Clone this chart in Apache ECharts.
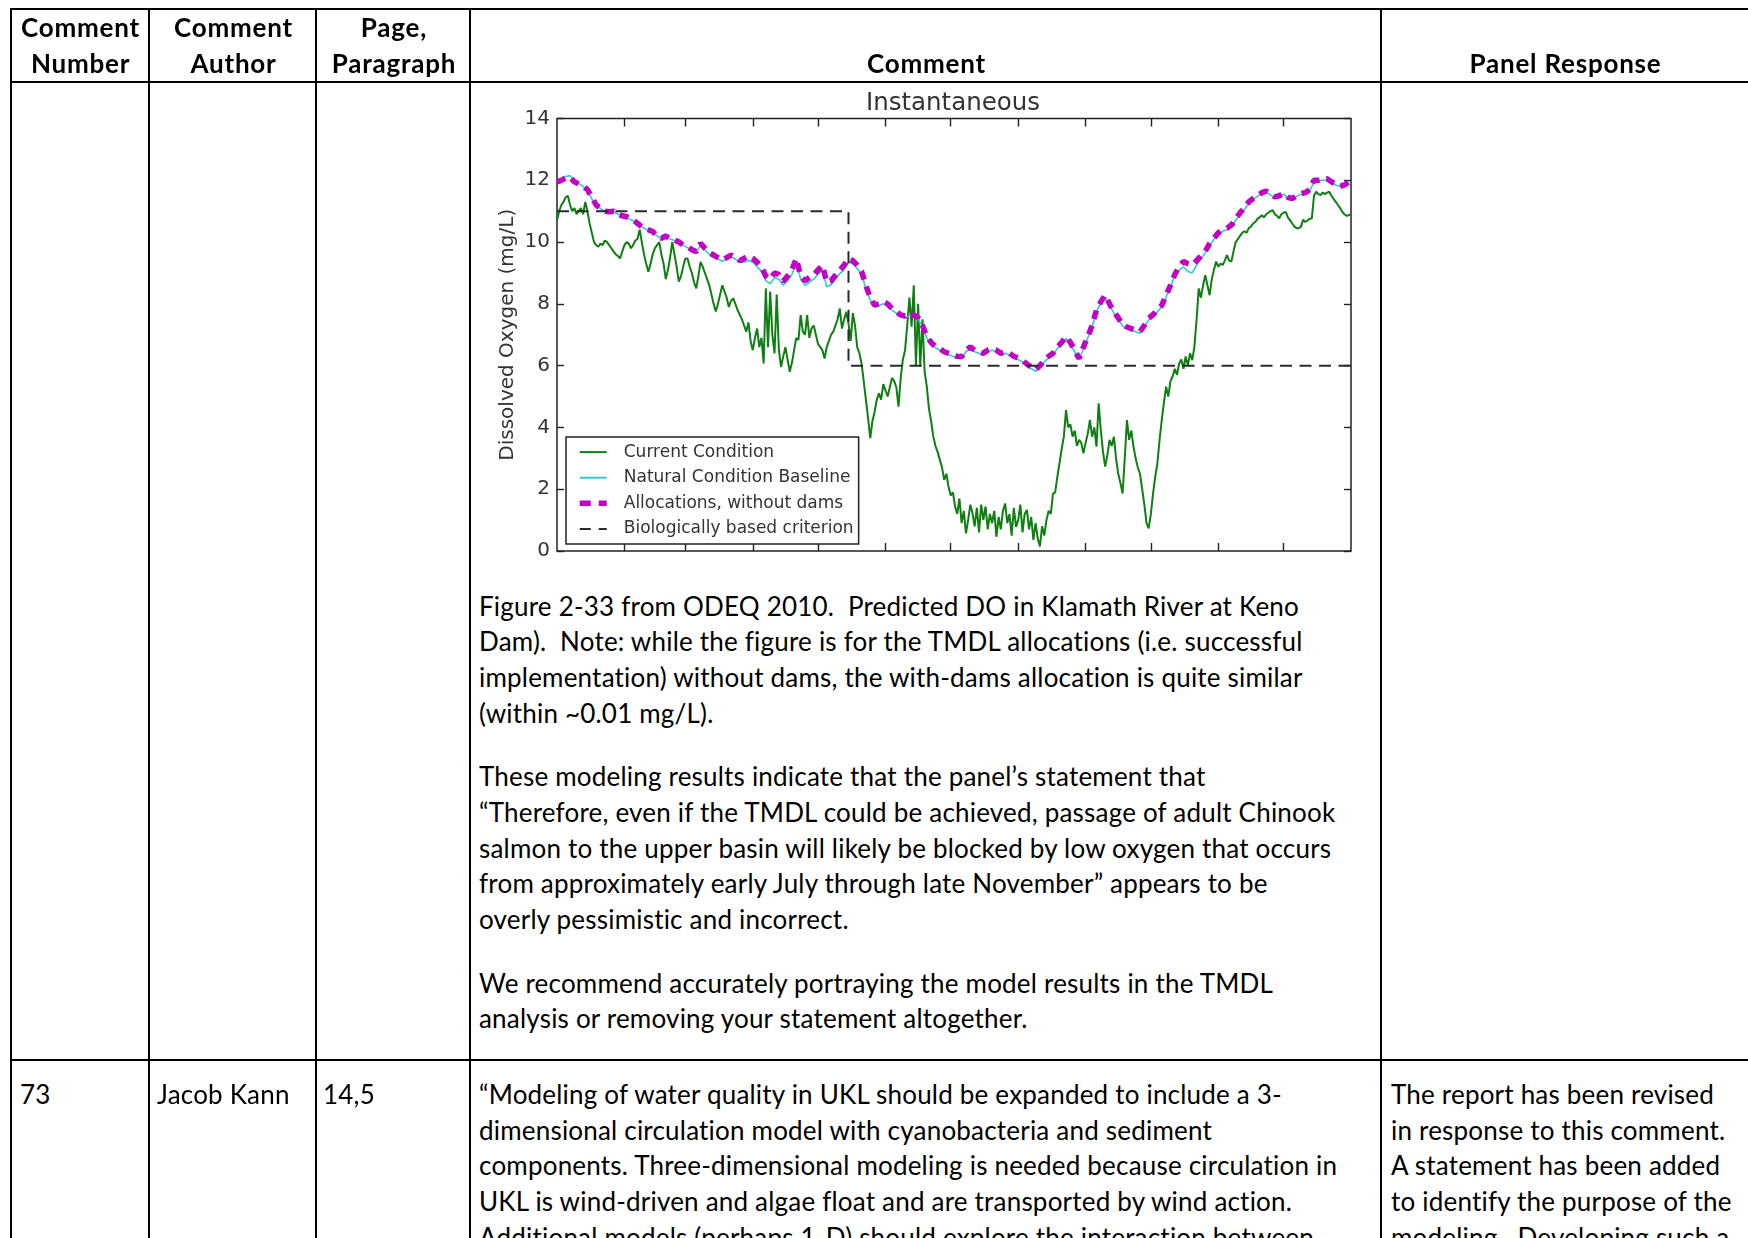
<!DOCTYPE html>
<html>
<head>
<meta charset="utf-8">
<script src="https://cdn.jsdelivr.net/npm/echarts@6/dist/echarts.min.js"></script>
<style>
  html, body { margin: 0; padding: 0; background: #fff; width: 1748px; height: 1238px; overflow: hidden; }
  .ln { position: absolute; background: #000; }
  .t { position: absolute; font-family: Lato, "Open Sans", sans-serif; font-size: 26px; line-height: 35.7px; white-space: pre; color: #000; }
  .b { font-weight: bold; text-align: center; }
  #chart { position: absolute; left: 472px; top: 82px; width: 905px; height: 490px; }
</style>
</head>
<body>
<div id="chart"></div>
<script>
// ---- chart data: dissolved oxygen (mg/L) by day of year ----
const monthStarts = [31, 59, 90, 120, 151, 181, 212, 243, 273, 304, 334];

// Current Condition, one value per day (day 0 .. 365)
const currentCondition = [
  10.7, 11.0, 11.2, 11.3, 11.45, 11.5, 11.2, 11.0, 11.1, 10.9,
  11.0, 11.1, 10.9, 11.3, 11.0, 10.6, 10.3, 10.0, 9.9, 9.85,
  9.95, 9.9, 10.05, 10.0, 9.9, 9.8, 9.7, 9.6, 9.55, 9.47,
  9.7, 9.9, 10.0, 9.95, 9.8, 9.9, 10.05, 10.1, 10.4, 10.0,
  9.6, 9.3, 9.04, 9.3, 9.6, 9.8, 9.9, 10.0, 9.6, 9.3,
  8.8, 9.1, 9.5, 10.0, 9.6, 9.2, 8.72, 8.9, 9.2, 9.47,
  9.47, 9.2, 9.0, 8.7, 8.5, 8.9, 9.36, 9.2, 9.0, 8.8,
  8.6, 8.3, 8.0, 7.75, 8.0, 8.3, 8.6, 8.4, 8.2, 7.9,
  8.1, 8.18, 8.0, 7.8, 7.65, 7.5, 7.3, 7.1, 7.4, 6.8,
  6.5, 6.9, 7.2, 6.6, 6.9, 6.07, 8.5, 6.6, 8.4, 7.0,
  6.4, 8.3, 6.5, 5.96, 6.3, 6.6, 6.2, 5.8, 6.1, 6.5,
  6.9, 6.83, 7.64, 7.1, 7.0, 7.64, 6.9, 7.2, 7.3, 7.0,
  6.7, 6.6, 6.5, 6.23, 6.6, 6.8, 7.0, 7.1, 7.3, 7.5,
  7.85, 7.2, 7.5, 7.74, 7.37, 6.8, 7.7, 7.3, 6.6, 6.4,
  6.07, 5.5, 4.9, 4.3, 3.65, 4.2, 4.5, 4.9, 5.1, 4.9,
  5.4, 5.2, 5.0, 5.3, 5.6, 5.5, 5.3, 4.67, 5.6, 6.2,
  6.5, 7.3, 8.2, 7.26, 8.6, 6.0, 8.0, 5.97, 7.5, 5.8,
  5.32, 4.6, 4.2, 3.7, 3.4, 3.2, 2.95, 2.7, 2.3, 2.5,
  2.08, 1.8, 1.9, 1.44, 1.2, 1.7, 0.9, 1.3, 0.57, 1.0,
  1.5, 1.22, 0.8, 1.4, 0.6, 1.5, 1.0, 1.44, 0.7, 1.2,
  0.9, 1.3, 0.46, 1.1, 0.7, 1.3, 1.54, 0.9, 1.2, 0.5,
  1.4, 0.78, 1.0, 1.5, 0.6, 1.2, 1.33, 0.7, 1.1, 0.36,
  0.9, 0.4, 0.15, 0.8, 0.5, 1.0, 1.3, 1.2, 1.86, 1.9,
  2.4, 2.84, 3.3, 3.7, 4.56, 4.0, 4.1, 3.7, 3.9, 3.4,
  3.6, 3.5, 3.16, 3.5, 3.8, 4.24, 3.7, 4.0, 3.38, 4.78,
  3.9, 3.2, 2.73, 3.1, 3.6, 3.4, 3.7, 3.0, 2.5, 2.2,
  1.86, 3.0, 4.24, 3.6, 3.9, 3.38, 3.0, 2.7, 2.5, 2.0,
  1.5, 0.9, 0.73, 1.2, 1.86, 2.4, 2.84, 3.6, 4.24, 4.8,
  5.32, 5.0, 5.5, 5.65, 5.9, 5.7, 6.07, 6.2, 5.9, 6.3,
  6.0, 6.4, 6.18, 6.6, 7.47, 8.5, 8.2, 8.6, 8.93, 8.6,
  8.28, 8.8, 9.1, 9.37, 9.2, 9.3, 9.26, 9.4, 9.58, 9.4,
  9.37, 9.7, 10.0, 10.1, 10.2, 10.3, 10.35, 10.3, 10.45, 10.5,
  10.6, 10.65, 10.75, 10.8, 10.87, 10.8, 10.9, 10.95, 11.0, 11.03,
  10.9, 10.85, 10.77, 10.9, 10.95, 10.98, 10.8, 10.7, 10.6, 10.5,
  10.45, 10.45, 10.5, 10.72, 10.65, 10.7, 10.75, 10.77, 11.5, 11.63,
  11.55, 11.52, 11.6, 11.55, 11.6, 11.63, 11.5, 11.4, 11.3, 11.2,
  11.1, 10.98, 10.9, 10.85, 10.87, 10.9
];

// Natural Condition Baseline, one value every 2 days (day 0 .. 364)
const naturalBaseline = [
  11.95, 12.05, 12.12, 12.15, 11.98, 11.9, 11.8, 11.65, 11.4, 11.2,
  11.08, 11.0, 10.95, 10.98, 10.9, 10.85, 10.8, 10.72, 10.65, 10.55,
  10.45, 10.38, 10.3, 10.2, 10.1, 10.15, 10.1, 10.05, 9.98, 9.9,
  9.82, 9.72, 9.65, 9.9, 9.75, 9.6, 9.52, 9.45, 9.38, 9.45,
  9.52, 9.45, 9.35, 9.35, 9.4, 9.35, 9.2, 9.05, 8.75, 8.65,
  8.85, 8.8, 8.6, 8.75, 8.95, 9.35, 8.8, 8.6, 8.7, 8.8,
  8.95, 9.1, 8.55, 8.62, 8.8, 8.98, 9.1, 9.35, 9.3, 9.15,
  8.95, 8.5, 8.12, 7.9, 7.95, 8.0, 7.95, 7.8, 7.7, 7.6,
  7.55, 7.62, 7.58, 7.5, 7.25, 6.9, 6.7, 6.58, 6.5, 6.42,
  6.36, 6.3, 6.25, 6.25, 6.45, 6.55, 6.45, 6.4, 6.35, 6.45,
  6.5, 6.45, 6.35, 6.4, 6.35, 6.25, 6.2, 6.12, 6.0, 5.9,
  5.82, 5.95, 6.12, 6.25, 6.35, 6.55, 6.7, 6.88, 6.7, 6.45,
  6.2, 6.55, 6.9, 7.25, 7.75, 8.02, 8.22, 7.95, 7.7, 7.5,
  7.28, 7.2, 7.15, 7.1, 7.05, 7.25, 7.48, 7.6, 7.75, 7.9,
  8.22, 8.55, 8.9, 9.1, 9.2, 9.05, 9.0, 9.25, 9.45, 9.65,
  9.9, 10.08, 10.25, 10.35, 10.4, 10.5, 10.7, 10.9, 11.05, 11.25,
  11.38, 11.48, 11.58, 11.62, 11.52, 11.45, 11.48, 11.55, 11.42, 11.38,
  11.48, 11.55, 11.58, 11.65, 11.95, 11.98, 12.0, 12.02, 11.92, 11.85,
  11.8, 11.88, 11.98
];

// Allocations, without dams, one value every 2 days (day 0 .. 364)
const allocationsNoDams = [
  11.95, 12.0, 12.08, 12.1, 11.95, 11.88, 11.8, 11.7, 11.45, 11.2,
  11.1, 11.0, 10.98, 11.0, 10.9, 10.85, 10.82, 10.75, 10.66, 10.55,
  10.45, 10.4, 10.34, 10.2, 10.12, 10.2, 10.1, 10.07, 10.0, 9.9,
  9.85, 9.75, 9.69, 9.96, 9.8, 9.65, 9.58, 9.5, 9.42, 9.5,
  9.58, 9.5, 9.4, 9.47, 9.55, 9.47, 9.35, 9.2, 8.9, 8.8,
  9.0, 8.95, 8.73, 8.9, 9.1, 9.47, 8.9, 8.75, 8.85, 8.93,
  9.1, 9.25, 8.7, 8.75, 8.93, 9.1, 9.25, 9.47, 9.4, 9.25,
  9.05, 8.6, 8.2, 7.96, 8.0, 8.07, 8.0, 7.85, 7.75, 7.64,
  7.6, 7.7, 7.64, 7.55, 7.3, 6.94, 6.75, 6.61, 6.55, 6.45,
  6.4, 6.35, 6.3, 6.29, 6.5, 6.61, 6.5, 6.45, 6.4, 6.5,
  6.55, 6.5, 6.4, 6.45, 6.4, 6.3, 6.25, 6.18, 6.05, 5.95,
  5.86, 6.0, 6.18, 6.3, 6.4, 6.6, 6.75, 6.94, 6.75, 6.5,
  6.23, 6.6, 6.94, 7.3, 7.8, 8.07, 8.28, 8.0, 7.74, 7.55,
  7.32, 7.25, 7.2, 7.15, 7.1, 7.3, 7.53, 7.65, 7.8, 7.95,
  8.28, 8.6, 8.95, 9.2, 9.37, 9.3, 9.26, 9.4, 9.55, 9.7,
  9.95, 10.12, 10.3, 10.4, 10.45, 10.55, 10.75, 10.95, 11.1, 11.3,
  11.41, 11.5, 11.6, 11.65, 11.55, 11.46, 11.5, 11.57, 11.45, 11.41,
  11.5, 11.57, 11.6, 11.7, 12.0, 12.0, 12.02, 12.05, 11.95, 11.88,
  11.8, 11.85, 11.95
];

// Biologically based criterion: 11 mg/L through mid-May, 6 mg/L afterwards
const criterionDays = [0, 134, 134, 365];
const criterionValues = [11, 11, 6, 6];

const seriesNames = ['Current Condition', 'Natural Condition Baseline', 'Allocations, without dams', 'Biologically based criterion'];

// ---- table text ----
const headerCells = [
  { x0: 12, x1: 149, lines: ['Comment', 'Number'] },
  { x0: 151, x1: 316, lines: ['Comment', 'Author'] },
  { x0: 318, x1: 470, lines: ['Page,', 'Paragraph'] },
  { x0: 472, x1: 1381, lines: ['Comment'], single: true },
  { x0: 1383, x1: 1748, lines: ['Panel Response'], single: true }
];

const commentParas72 = [
  [
    'Figure 2-33 from ODEQ 2010.  Predicted DO in Klamath River at Keno',
    'Dam).  Note: while the figure is for the TMDL allocations (i.e. successful',
    'implementation) without dams, the with-dams allocation is quite similar',
    '(within ~0.01 mg/L).'
  ],
  [
    'These modeling results indicate that the panel\u2019s statement that',
    '\u201CTherefore, even if the TMDL could be achieved, passage of adult Chinook',
    'salmon to the upper basin will likely be blocked by low oxygen that occurs',
    'from approximately early July through late November\u201D appears to be',
    'overly pessimistic and incorrect.'
  ],
  [
    'We recommend accurately portraying the model results in the TMDL',
    'analysis or removing your statement altogether.'
  ]
];

const commentText73 = [
  '\u201CModeling of water quality in UKL should be expanded to include a 3-',
  'dimensional circulation model with cyanobacteria and sediment',
  'components. Three-dimensional modeling is needed because circulation in',
  'UKL is wind-driven and algae float and are transported by wind action.',
  'Additional models (perhaps 1-D) should explore the interaction between'
];

const responseText73 = [
  'The report has been revised',
  'in response to this comment.',
  'A statement has been added',
  'to identify the purpose of the',
  'modeling.  Developing such a'
];

// ---- table grid ----
function rule(x, y, w, h) {
  const d = document.createElement('div');
  d.className = 'ln';
  d.style.left = x + 'px'; d.style.top = y + 'px';
  d.style.width = w + 'px'; d.style.height = h + 'px';
  document.body.appendChild(d);
}
rule(10, 8, 1740, 2);
rule(10, 81, 1740, 2);
rule(10, 1059, 1740, 2);
[10, 148, 315, 469, 1380].forEach(x => rule(x, 8, 2, 1240));

// ---- text placement ----
const LH = 35.7;       // line pitch
const PARA = 63.5;     // pitch from last line of a paragraph to first of the next
function textBlock(lines, x, yCenter, cls, extra) {
  const d = document.createElement('div');
  d.className = 't' + (cls ? ' ' + cls : '');
  d.textContent = lines.join('\n');
  d.style.left = x + 'px';
  d.style.top = (yCenter - 16.7) + 'px';
  if (extra) Object.assign(d.style, extra);
  document.body.appendChild(d);
  return d;
}

// letter spacing that makes a reference line span its printed width
function spacingFor(text, target, cls) {
  const p = document.createElement('span');
  p.className = 't' + (cls ? ' ' + cls : '');
  p.style.visibility = 'hidden';
  p.textContent = text;
  document.body.appendChild(p);
  const w = p.getBoundingClientRect().width;
  p.remove();
  return (target - w) / text.length;
}
const lsBody = spacingFor(commentParas72[0][0], 820) + 'px';
const lsBold = spacingFor('Panel Response', 192, 'b') + 'px';

headerCells.forEach(c => {
  textBlock(c.lines, c.x0, c.single ? 62.4 : 26.8, 'b', {
    width: (c.x1 - c.x0) + 'px', letterSpacing: lsBold
  });
});

let y = 605.3;
commentParas72.forEach(p => {
  textBlock(p, 479, y, '', { letterSpacing: lsBody });
  y += (p.length - 1) * LH + PARA;
});
textBlock(['73'], 20, 1093.6, '', { letterSpacing: lsBody });
textBlock(['Jacob Kann'], 157, 1093.6, '', { letterSpacing: lsBody });
textBlock(['14,5'], 323, 1093.6, '', { letterSpacing: lsBody });
textBlock(commentText73, 479, 1093.6, '', { letterSpacing: lsBody });
textBlock(responseText73, 1391, 1093.6, '', { letterSpacing: lsBody });

// ---- chart ----
const chart = echarts.init(document.getElementById('chart'), null, { renderer: 'canvas' });
const font = 'DejaVu Sans';

// box-style axes: ticks on all four sides, pointing into the plot
function xAxisCfg(position) {
  return {
    show: true, type: 'value', min: 0, max: 365, position: position,
    axisLine: { show: false, onZero: false },
    axisTick: { show: true, inside: true, length: 8, customValues: monthStarts.slice(), lineStyle: { color: '#222', width: 1.4 } },
    axisLabel: { show: false },
    splitLine: { show: false }
  };
}
function yAxisCfg(position, withLabels) {
  const cfg = {
    show: true, type: 'value', min: 0, max: 14, interval: 2, position: position,
    axisLine: { show: false, onZero: false },
    axisTick: { show: true, inside: true, length: 7, lineStyle: { color: '#222', width: 1.4 } },
    axisLabel: { show: withLabels, fontFamily: font, fontSize: 20, color: '#333', margin: 7 },
    splitLine: { show: false }
  };
  if (withLabels) {
    cfg.name = 'Dissolved Oxygen (mg/L)';
    cfg.nameLocation = 'middle';
    cfg.nameRotate = 90;
    cfg.nameGap = 39;
    cfg.nameMoveOverlap = false;
    cfg.nameTextStyle = { fontFamily: font, fontSize: 20, color: '#333' };
  }
  return cfg;
}

const legendLine = {};
legendLine[seriesNames[2]] = { width: 5.5, type: [11, 8] };
legendLine[seriesNames[3]] = { width: 2, type: [11, 8] };

chart.setOption({
  animation: false,
  backgroundColor: 'transparent',
  title: {
    text: 'Instantaneous', left: 481, top: 9, textAlign: 'center', padding: 0,
    textStyle: { fontFamily: font, fontSize: 24.5, fontWeight: 'normal', color: '#333' }
  },
  grid: {
    left: 85, top: 36.5, width: 794, height: 432.5,
    show: true, borderColor: '#222', borderWidth: 1.5, backgroundColor: 'transparent'
  },
  legend: {
    orient: 'vertical', left: 94, top: 355,
    backgroundColor: '#fff', borderColor: '#222', borderWidth: 1.5, borderRadius: 0,
    padding: [6.6, 5, 6.6, 11],
    itemWidth: 27, itemHeight: 14, itemGap: 8.6,
    itemStyle: { opacity: 0 },
    textStyle: { fontFamily: font, fontSize: 17, color: '#333', lineHeight: 17, padding: [0, 0, 0, 12] },
    data: seriesNames.map(n => legendLine[n] ? { name: n, lineStyle: legendLine[n] } : { name: n })
  },
  xAxis: [xAxisCfg('bottom'), xAxisCfg('top')],
  yAxis: [yAxisCfg('left', true), yAxisCfg('right', false)],
  series: [
    {
      name: seriesNames[0], type: 'line', symbol: 'none',
      data: currentCondition.map((v, d) => [d, v]),
      lineStyle: { color: '#0f7f12', width: 2 }, itemStyle: { color: '#0f7f12' }
    },
    {
      name: seriesNames[1], type: 'line', symbol: 'none',
      data: naturalBaseline.map((v, i) => [i * 2, v]),
      lineStyle: { color: '#35c8d0', width: 1.6 }, itemStyle: { color: '#35c8d0' }
    },
    {
      name: seriesNames[2], type: 'line', symbol: 'none',
      data: allocationsNoDams.map((v, i) => [i * 2, v]),
      lineStyle: { color: '#c400c4', width: 5.5, type: [9, 7] }, itemStyle: { color: '#c400c4' }
    },
    {
      name: seriesNames[3], type: 'line', symbol: 'none',
      data: criterionDays.map((d, i) => [d, criterionValues[i]]),
      lineStyle: { color: '#2a2a2a', width: 2, type: [12, 7.5] }, itemStyle: { color: '#2a2a2a' }
    }
  ]
});
</script>
</body>
</html>
